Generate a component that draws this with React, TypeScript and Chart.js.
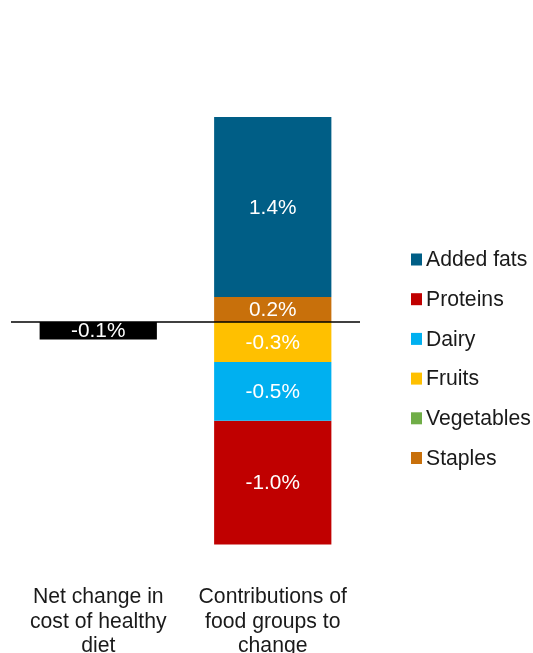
import { useEffect, useRef } from 'react';
import { Chart, registerables } from 'chart.js';

Chart.register(...registerables);

// ---- data ----
const categories: string[][] = [
  ['Net change in', 'cost of healthy', 'diet'],
  ['Contributions of', 'food groups to', 'change'],
];
const netChange = [-0.14, null];
const staples = [null, 0.2];
const vegetables = [null, 0];
const fruits = [null, -0.32];
const dairy = [null, -0.47];
const proteins = [null, -0.99];
const addedFats = [null, 1.44];

const seriesNames = ['Staples', 'Vegetables', 'Fruits', 'Dairy', 'Proteins', 'Added fats'];
const seriesValues = [staples, vegetables, fruits, dairy, proteins, addedFats];
const seriesColors = ['#C8700B', '#70AD47', '#FFC000', '#00B0F0', '#C00000', '#005E86'];

const FONT = '"Liberation Sans", Arial, sans-serif';

const labelPlugin = {
  id: 'segLabels',
  afterDatasetsDraw(chart: any) {
    const ctx = chart.ctx;
    ctx.save();
    // zero line on top of bars
    const y0 = chart.scales.y.getPixelForValue(0);
    ctx.strokeStyle = '#000';
    ctx.lineWidth = 1.5;
    ctx.beginPath();
    ctx.moveTo(chart.chartArea.left, y0);
    ctx.lineTo(chart.chartArea.right, y0);
    ctx.stroke();

    ctx.font = `20.8px ${FONT}`;
    ctx.fillStyle = '#fff';
    ctx.textAlign = 'center';
    ctx.textBaseline = 'middle';
    chart.data.datasets.forEach((ds: any, di: number) => {
      const meta = chart.getDatasetMeta(di);
      meta.data.forEach((el: any, i: number) => {
        const v = ds.data[i];
        if (v === null || v === 0) return;
        const yc = (el.y + el.base) / 2;
        ctx.fillText(v.toFixed(1) + '%', el.x, yc + 1);
      });
    });
    ctx.restore();
  },
};

const legendPlugin = {
  id: 'customLegend',
  afterDraw(chart: any) {
    const ctx = chart.ctx;
    ctx.save();
    ctx.font = `21.2px ${FONT}`;
    ctx.textBaseline = 'middle';
    ctx.textAlign = 'left';
    const names = [...seriesNames].reverse();
    const colors = [...seriesColors].reverse();
    names.forEach((n, i) => {
      const yc = 259.5 + i * 39.7;
      ctx.fillStyle = colors[i];
      ctx.fillRect(411, yc - 6, 11, 12);
      ctx.fillStyle = '#1a1a1a';
      ctx.fillText(n, 426, yc + 1);
    });
    ctx.restore();
  },
};

export default function App() {
  const ref = useRef<HTMLCanvasElement>(null);
  useEffect(() => {
    if (!ref.current) return;
    const datasets: any[] = [
      {
        label: 'Net change',
        data: netChange,
        backgroundColor: '#000000',
        borderWidth: 0,
      },
      ...seriesNames.map((n, i) => ({
        label: n,
        data: seriesValues[i],
        backgroundColor: seriesColors[i],
        borderWidth: 0,
      })),
    ];
    const chart = new Chart(ref.current, {
      type: 'bar',
      data: { labels: categories as any, datasets },
      options: {
        responsive: false,
        animation: false,
        layout: { padding: { left: 11, right: 173, top: 72, bottom: 0 } },
        datasets: { bar: { categoryPercentage: 1, barPercentage: 0.672 } } as any,
        plugins: { legend: { display: false }, tooltip: { enabled: false }, title: { display: false } },
        scales: {
          x: {
            stacked: true,
            grid: { display: false, drawTicks: false },
            border: { display: false },
            ticks: {
              font: { family: FONT, size: 21.2, lineHeight: 1.16 },
              color: '#1a1a1a',
              padding: 13,
              maxRotation: 0,
              autoSkip: false,
            },
            afterFit: (s: any) => {
              s.height = 100;
            },
          },
          y: {
            stacked: true,
            display: false,
            min: -2,
            max: 2,
          },
        },
      },
      plugins: [labelPlugin, legendPlugin],
    });
    return () => chart.destroy();
  }, []);
  return (
    <div style={{ position: 'absolute', left: 0, top: 0, width: 533, height: 653, overflow: 'hidden', background: '#fff' }}>
      <canvas ref={ref} width={533} height={672} style={{ display: 'block' }} />
    </div>
  );
}
